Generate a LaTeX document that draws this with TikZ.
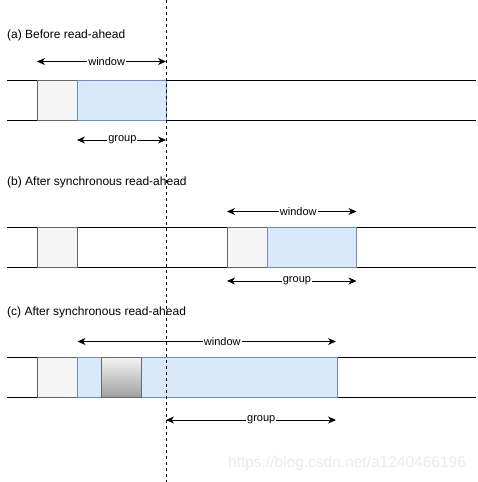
\documentclass[tikz,border=0pt]{standalone}
\usepackage{fontspec}
\setmainfont{Liberation Sans}
\usetikzlibrary{arrows.meta}
\definecolor{greyfill}{HTML}{F5F5F5}
\definecolor{greystroke}{HTML}{666666}
\definecolor{bluefill}{HTML}{DAE8FC}
\definecolor{bluestroke}{HTML}{6C8EBF}
\definecolor{gradbot}{HTML}{A0A0A0}
\definecolor{wmark}{HTML}{EBEBEB}
\tikzset{
  x=1pt, y=-1pt,
  track/.style={line width=1pt, black},
  cell/.style={inner sep=0pt, outer sep=0pt, minimum height=40pt, anchor=north west, line width=1pt},
  greybox/.style={cell, draw=greystroke, fill=greyfill, minimum width=40pt},
  bluebox/.style={cell, draw=bluestroke, fill=bluefill},
  gradbox/.style={cell, draw=greystroke, top color=greyfill, bottom color=gradbot, minimum width=40pt},
  span/.style={line width=0.9pt, {Stealth[length=8pt,width=7pt,inset=2.5pt]}-{Stealth[length=8pt,width=7pt,inset=2.5pt]}},
  spanlabel/.style={fill=white, inner sep=1pt, font=\fontsize{11}{13}\selectfont},
  title/.style={anchor=west, inner sep=0pt, font=\fontsize{12}{14}\selectfont},
  marker/.style={line width=0.9pt, dash pattern=on 3pt off 3pt}
}
\begin{document}
\begin{tikzpicture}
\useasboundingbox (0,0) rectangle (478,482);
\fill[white] (0,0) rectangle (478,482);

% ---------- (a)
\node[title] (ta) at (7,35) {(a) Before read-ahead};
\coordinate (a1l) at (7,80.5);  \coordinate (a1r) at (476,80.5);
\coordinate (a2l) at (7,120);   \coordinate (a2r) at (476,120);
\draw[track] (a1l) -- (a1r);
\draw[track] (a2l) -- (a2r);
\node[greybox] (ag) at (37,80.5) {};
\node[bluebox, minimum width=89pt] (ab) at (77,80.5) {};
\coordinate (aw1) at (37,61.5); \coordinate (aw2) at (166,61.5);
\draw[span] (aw1) -- node[spanlabel, pos=0.54] (awl) {window} (aw2);
\coordinate (ag1) at (77,140); \coordinate (ag2) at (166,140);
\draw[span] (ag1) -- node[spanlabel, pos=0.51] (agl) {group} (ag2);

% ---------- (b)
\node[title] (tb) at (7,182) {(b) After synchronous read-ahead};
\coordinate (b1l) at (7,227);  \coordinate (b1r) at (476,227);
\coordinate (b2l) at (7,267);  \coordinate (b2r) at (476,267);
\draw[track] (b1l) -- (b1r);
\draw[track] (b2l) -- (b2r);
\node[greybox] (bg0) at (37,227) {};
\node[greybox] (bg) at (227,227) {};
\node[bluebox, minimum width=89.5pt] (bb) at (267,227) {};
\coordinate (bw1) at (227,211.5); \coordinate (bw2) at (356.5,211.5);
\draw[span] (bw1) -- node[spanlabel, pos=0.55] (bwl) {window} (bw2);
\coordinate (bg1) at (227,281); \coordinate (bg2) at (356.5,281);
\draw[span] (bg1) -- node[spanlabel, pos=0.54] (bgl) {group} (bg2);

% ---------- (c)
\node[title] (tc) at (7,312) {(c) After synchronous read-ahead};
\coordinate (c1l) at (7,357);  \coordinate (c1r) at (476,357);
\coordinate (c2l) at (7,397);  \coordinate (c2r) at (476,397);
\draw[track] (c1l) -- (c1r);
\draw[track] (c2l) -- (c2r);
\node[greybox] (cg) at (37,357) {};
\node[bluebox, minimum width=260pt] (cb) at (77,357) {};
\node[gradbox] (cgr) at (101.7,357) {};
\coordinate (cw1) at (77.5,341.5); \coordinate (cw2) at (336,341.5);
\draw[span] (cw1) -- node[spanlabel, pos=0.56] (cwl) {window} (cw2);
\coordinate (cg1) at (166,420); \coordinate (cg2) at (336,420);
\draw[span] (cg1) -- node[spanlabel, pos=0.56] (cgl) {group} (cg2);

% ---------- dashed marker
\coordinate (mt) at (166,0); \coordinate (mb) at (166,482);
\draw[marker] (mt) -- (mb);

% ---------- watermark
\node[text=wmark, font=\fontsize{15.5}{18}\selectfont, inner sep=0pt] (wm) at (347,463) {https://blog.csdn.net/a1240466196};
\end{tikzpicture}
\end{document}
